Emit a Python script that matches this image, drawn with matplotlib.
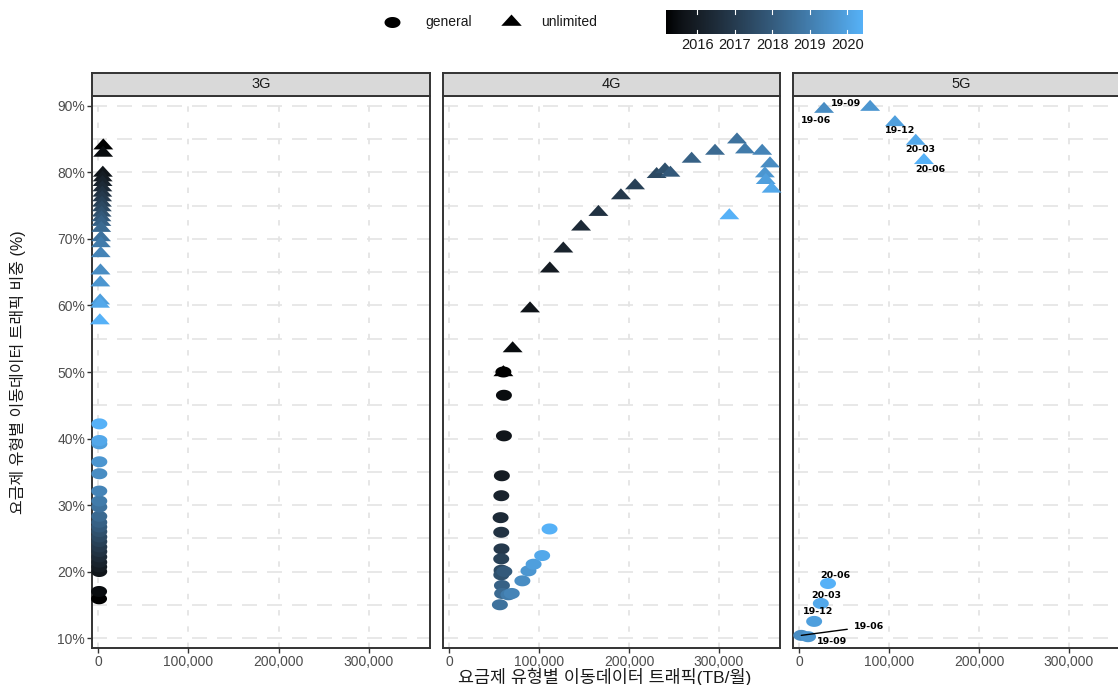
import numpy as np
import matplotlib
matplotlib.use("Agg")
import matplotlib.pyplot as plt
from matplotlib.path import Path
from matplotlib.colors import LinearSegmentedColormap

plt.rcParams['font.family'] = ['Liberation Sans', 'Noto Sans CJK KR', 'DejaVu Sans']

# ---------------- data ----------------
quarters = ["2015-03", "2015-06", "2015-09", "2015-12", "2016-03", "2016-06", "2016-09", "2016-12",
            "2017-03", "2017-06", "2017-09", "2017-12", "2018-03", "2018-06", "2018-09", "2018-12",
            "2019-03", "2019-06", "2019-09", "2019-12", "2020-03", "2020-06"]

g3_unl_traffic = [5800, 5600, 5300, 5100, 5000, 4800, 4700, 4500, 4300, 4200, 4000, 3800,
                  3700, 3500, 3300, 3100, 2900, 2700, 2500, 2300, 2200, 2000]
g3_unl_share = [84.1, 83.0, 80.0, 79.3, 78.6, 77.8, 77.0, 76.3, 75.5, 74.8, 74.0, 73.3,
                72.6, 71.7, 70.3, 69.4, 67.9, 65.3, 63.5, 60.8, 60.3, 57.8]
g3_gen_traffic = [1100, 1150, 1300, 1300, 1350, 1350, 1400, 1400, 1400, 1400, 1400, 1380,
                  1380, 1380, 1400, 1380, 1370, 1430, 1440, 1480, 1450, 1460]
g3_gen_share = [15.9, 17.0, 20.0, 20.7, 21.4, 22.2, 23.0, 23.7, 24.5, 25.2, 26.0, 26.7,
                27.4, 28.3, 29.7, 30.6, 32.1, 34.7, 36.5, 39.2, 39.7, 42.2]

g4_unl_traffic = [60400, 70700, 90000, 112000, 127000, 146700, 166000, 191000, 206700, 230700, 240000,
                  246000, 269600, 295600, 320000, 328900, 348000, 356700, 351000, 352000, 358500, 311500]
g4_unl_share = [50.0, 53.6, 59.6, 65.6, 68.6, 71.9, 74.1, 76.6, 78.1, 79.8, 80.5,
                80.0, 82.1, 83.3, 85.0, 83.5, 83.3, 81.4, 79.9, 78.9, 77.6, 73.6]
g4_gen_traffic = [60400, 61000, 61000, 58700, 58100, 57300, 58000, 58300, 58000, 58400, 58100,
                  61500, 58800, 59000, 56500, 66000, 69700, 81500, 88300, 94000, 103500, 111700]
g4_gen_share = [50.0, 46.5, 40.4, 34.4, 31.4, 28.1, 25.9, 23.4, 21.9, 20.2, 19.5,
                20.0, 17.9, 16.7, 15.0, 16.5, 16.7, 18.6, 20.1, 21.1, 22.4, 26.4]

g5_quarters = ["2019-06", "2019-09", "2019-12", "2020-03", "2020-06"]
g5_labels = ["19-06", "19-09", "19-12", "20-03", "20-06"]
g5_unl_traffic = [27800, 79000, 106600, 129700, 138800]
g5_unl_share = [89.6, 89.9, 87.6, 84.8, 81.9]
g5_gen_traffic = [2500, 10000, 16800, 24200, 32200]
g5_gen_share = [10.4, 10.2, 12.5, 15.2, 18.2]

panels = ["3G", "4G", "5G"]
x_ticks = [0, 100000, 200000, 300000]
x_ticklabels = ["0", "100,000", "200,000", "300,000"]
y_ticks = [10, 20, 30, 40, 50, 60, 70, 80, 90]
y_ticklabels = ["10%", "20%", "30%", "40%", "50%", "60%", "70%", "80%", "90%"]
cbar_years = [2016, 2017, 2018, 2019, 2020]
legend_labels = ["general", "unlimited"]


def to_year(q):
    y, m = q.split("-")
    return int(y) + (int(m) - 1) / 12.0


# ---------------- colour scale (Lab interpolation black -> #56B1F7) ----------------
def _lin(c):
    c = np.asarray(c, float)
    return np.where(c <= 0.04045, c / 12.92, ((c + 0.055) / 1.055) ** 2.4)


def _gam(c):
    c = np.clip(c, 0, 1)
    return np.where(c <= 0.0031308, 12.92 * c, 1.055 * c ** (1 / 2.4) - 0.055)


M = np.array([[0.4124, 0.3576, 0.1805], [0.2126, 0.7152, 0.0722], [0.0193, 0.1192, 0.9505]])
WHITE = np.array([0.95047, 1.0, 1.08883])


def rgb2lab(rgb):
    xyz = M @ _lin(rgb) / WHITE
    f = np.where(xyz > 0.008856, np.cbrt(xyz), 7.787 * xyz + 16 / 116)
    return np.array([116 * f[1] - 16, 500 * (f[0] - f[1]), 200 * (f[1] - f[2])])


def lab2rgb(lab):
    fy_ = (lab[0] + 16) / 116
    fx_ = fy_ + lab[1] / 500
    fz_ = fy_ - lab[2] / 200
    f = np.array([fx_, fy_, fz_])
    xyz = np.where(f ** 3 > 0.008856, f ** 3, (f - 16 / 116) / 7.787) * WHITE
    return _gam(np.linalg.inv(M) @ xyz)


lo = rgb2lab([0, 0, 0])
hi = rgb2lab([0x56 / 255, 0xB1 / 255, 0xF7 / 255])
stops = [lab2rgb(lo + (hi - lo) * t) for t in np.linspace(0, 1, 32)]
cmap = LinearSegmentedColormap.from_list("ggblue", stops)

all_years = [to_year(q) for q in quarters]
vmin, vmax = min(all_years), max(all_years)
norm = plt.Normalize(vmin, vmax)

# ---------------- markers ----------------
th = np.linspace(0, 2 * np.pi, 60)
ell_marker = Path(np.column_stack([np.cos(th), 0.69 * np.sin(th)]), closed=True)
tri_marker = Path([(-1, -0.42), (1, -0.42), (0, 0.68), (-1, -0.42)], closed=True)
S_CIRC = 11.5 ** 2
S_TRI = 14.4 ** 2

# ---------------- figure ----------------
W, H = 1118, 685
fig = plt.figure(figsize=(W / 100, H / 100), dpi=100)
fig.patch.set_facecolor("white")


def fx(px):
    return px / W


def fy(py):
    return 1 - py / H


panel_lr = [(92, 430), (443, 780), (793, 1130)]
top, bot = 96, 648
grid_col = "#e4e4e4"
dark = "#333333"

data = {
    "3G": (quarters, g3_gen_traffic, g3_gen_share, g3_unl_traffic, g3_unl_share),
    "4G": (quarters, g4_gen_traffic, g4_gen_share, g4_unl_traffic, g4_unl_share),
    "5G": (g5_quarters, g5_gen_traffic, g5_gen_share, g5_unl_traffic, g5_unl_share),
}

axes = []
for i, (name, (L, R)) in enumerate(zip(panels, panel_lr)):
    ax = fig.add_axes([fx(L), fy(bot), (R - L) / W, (bot - top) / H])
    ax.set_xlim(-6700, 367800)
    ax.set_ylim(8.5, 91.5)
    ax.set_facecolor("white")
    # grid
    for yv in np.arange(10, 91, 5):
        ax.axhline(yv, color=grid_col, lw=1.2, dashes=(9, 6), zorder=0)
    for xv in x_ticks:
        ax.axvline(xv, color=grid_col, lw=1.3, dashes=(3, 6), zorder=0)
    ax.set_xticks(x_ticks)
    ax.set_xticklabels(x_ticklabels)
    ax.set_yticks(y_ticks)
    ax.set_yticklabels(y_ticklabels if i == 0 else [])
    ax.tick_params(axis="both", length=3.5, width=1.0, color=dark, labelcolor="#4d4d4d",
                   labelsize=10, pad=1.5)
    if i > 0:
        ax.tick_params(axis="y", length=0)
    for sp in ax.spines.values():
        sp.set_color(dark)
        sp.set_linewidth(1.4)

    qs, gx, gs, ux, us = data[name]
    cols = cmap(norm([to_year(q) for q in qs]))
    ax.scatter(gx, gs, s=S_CIRC, marker=ell_marker, c=cols, linewidths=0, zorder=3, clip_on=False)
    ax.scatter(ux, us, s=S_TRI, marker=tri_marker, c=cols, linewidths=0, zorder=4, clip_on=False)

    # strip
    sax = fig.add_axes([fx(L), fy(top), (R - L) / W, 23 / H])
    sax.set_facecolor("#d9d9d9")
    sax.set_xticks([])
    sax.set_yticks([])
    for sp in sax.spines.values():
        sp.set_color(dark)
        sp.set_linewidth(1.4)
    sax.text(0.5, 0.5, name, ha="center", va="center", fontsize=10.5, color="#1a1a1a",
             transform=sax.transAxes)
    axes.append(ax)

# 5G labels
ax5 = axes[2]
lab_font = dict(fontsize=6.8, fontweight="bold", color="black", family=["DejaVu Sans"])
tri_off = [(-8, -12), (-24, 3), (5, -9), (5, -9), (6, -10)]
circ_off = [(68, 9), (24, -5), (4, 10), (5, 8), (7, 8)]
for k, lab in enumerate(g5_labels):
    dx, dy = tri_off[k]
    ax5.annotate(lab, (g5_unl_traffic[k], g5_unl_share[k]), xytext=(dx, dy), textcoords="offset pixels",
                 ha="center", va="center", zorder=6, **lab_font)
    dx, dy = circ_off[k]
    if k == 0:
        ax5.annotate(lab, (g5_gen_traffic[k], g5_gen_share[k]), xytext=(dx, dy), textcoords="offset pixels",
                     ha="center", va="center", zorder=6, **lab_font,
                     arrowprops=dict(arrowstyle="-", color="black", lw=1.0, shrinkA=3, shrinkB=0))
    else:
        ax5.annotate(lab, (g5_gen_traffic[k], g5_gen_share[k]), xytext=(dx, dy), textcoords="offset pixels",
                     ha="center", va="center", zorder=6, **lab_font)

# axis titles
fig.text(fx(605), fy(677), "요금제 유형별 이동데이터 트래픽(TB/월)", ha="center", va="center",
         fontsize=12.5, color="#1a1a1a")
fig.text(fx(18), fy(372), "요금제 유형별 이동데이터 트래픽 비중 (%)", ha="center", va="center",
         rotation=90, fontsize=11.5, color="#1a1a1a")

# shape legend
lax = fig.add_axes([0, fy(45), 1, 45 / H])
lax.set_xlim(0, W)
lax.set_ylim(45, 0)
lax.axis("off")
lax.scatter([392], [22], s=S_CIRC, marker=ell_marker, c="black", linewidths=0)
lax.scatter([511], [21], s=S_TRI * 1.05, marker=tri_marker, c="black", linewidths=0)
lax.text(425, 22, legend_labels[0], ha="left", va="center", fontsize=10, color="#1a1a1a")
lax.text(541, 22, legend_labels[1], ha="left", va="center", fontsize=10, color="#1a1a1a")

# colour bar
cax = fig.add_axes([fx(666), fy(34), (863 - 666) / W, 24 / H])
grad = np.linspace(vmin, vmax, 300)[None, :]
cax.imshow(grad, aspect="auto", cmap=cmap, norm=norm, extent=(vmin, vmax, 0, 1))
cax.set_xlim(vmin, vmax)
cax.set_ylim(0, 1)
for yr in cbar_years:
    cax.plot([yr, yr], [0, 0.17], color="white", lw=0.8)
    cax.plot([yr, yr], [0.83, 1], color="white", lw=0.8)
cax.set_yticks([])
cax.set_xticks(cbar_years)
cax.set_xticklabels([str(y) for y in cbar_years])
cax.tick_params(axis="x", length=0, pad=3, labelsize=10.5, labelcolor="#1a1a1a")
for sp in cax.spines.values():
    sp.set_visible(False)

fig.savefig("out.png", dpi=100)
